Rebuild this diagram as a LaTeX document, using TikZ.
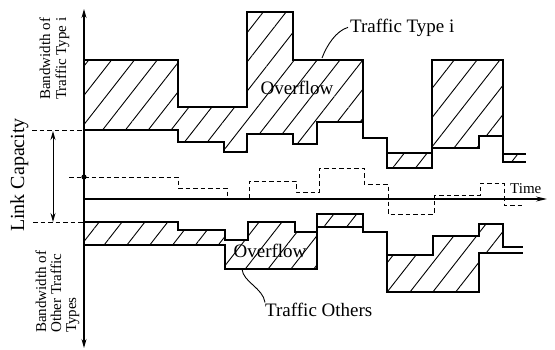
\documentclass[tikz,border=0pt]{standalone}
\usepackage{fontspec}
\setmainfont{Liberation Serif}
\usetikzlibrary{arrows.meta,patterns.meta}
\tikzset{
  outline/.style={line width=1.1pt, line join=miter},
  hatchfill/.style={pattern={Lines[angle=52,distance=18pt,line width=0.9pt]}},
  guide/.style={line width=0.9pt, dash pattern=on 4.5pt off 3pt},
  axisline/.style={line width=1.1pt},
  bigtext/.style={font=\fontsize{19}{22}\selectfont, inner sep=0pt},
  sidetext/.style={font=\fontsize{15}{16}\selectfont, inner sep=0pt, rotate=90, anchor=base west},
  leader/.style={line width=0.9pt},
}
\begin{document}
\begin{tikzpicture}[x=1pt,y=-1pt]
\useasboundingbox (0,0) rectangle (555,349);

% ---- hatched overflow areas (upper band: traffic type i)
\fill[hatchfill] (84,60) -- (178,60) -- (178,107) -- (247,107) -- (247,12) -- (293,12) -- (293,60) -- (363,60) -- (363,122) -- (317,122) -- (317,144) -- (293,144) -- (293,134) -- (247,134) -- (247,152) -- (224,152) -- (224,142) -- (178,142) -- (178,130) -- (84,130) -- cycle;
\fill[hatchfill] (387,153) -- (432,153) -- (432,168) -- (387,168) -- cycle;
\fill[hatchfill] (432,60) -- (503,60) -- (503,136) -- (479,136) -- (479,148) -- (432,148) -- cycle;
\fill[hatchfill] (503,154) -- (526,154) -- (526,162) -- (503,162) -- cycle;

% ---- hatched overflow areas (lower band: other traffic)
\fill[hatchfill] (84,222) -- (178,222) -- (178,230) -- (225,230) -- (225,240) -- (248,240) -- (248,222) -- (295,222) -- (295,232) -- (317,232) -- (317,269) -- (225,269) -- (225,245) -- (84,245) -- cycle;
\fill[hatchfill] (317,214) -- (363,214) -- (363,227) -- (317,227) -- cycle;
\fill[hatchfill] (387,255) -- (433,255) -- (433,236) -- (479,236) -- (479,224) -- (503,224) -- (503,253) -- (479,253) -- (479,292) -- (387,292) -- cycle;

% ---- step curves, upper band
\draw[outline] (84,60) -- (178,60) -- (178,107) -- (247,107) -- (247,12) -- (293,12) -- (293,60) -- (363,60) -- (363,138) -- (387,138) -- (387,153) -- (432,153) -- (432,60) -- (503,60) -- (503,154) -- (526,154);
\draw[outline] (84,130) -- (178,130) -- (178,142) -- (224,142) -- (224,152) -- (247,152) -- (247,134) -- (293,134) -- (293,144) -- (317,144) -- (317,122) -- (363,122) -- (363,138) -- (387,138) -- (387,168) -- (432,168) -- (432,148) -- (479,148) -- (479,136) -- (503,136) -- (503,162) -- (526,162);

% ---- step curves, lower band
\draw[outline] (84,222) -- (178,222) -- (178,230) -- (225,230) -- (225,240) -- (248,240) -- (248,222) -- (295,222) -- (295,232) -- (317,232) -- (317,214) -- (363,214) -- (363,232) -- (387,232) -- (387,255) -- (433,255) -- (433,236) -- (479,236) -- (479,224) -- (503,224) -- (503,247) -- (523,247);
\draw[outline] (84,245) -- (225,245) -- (225,269) -- (317,269) -- (317,227) -- (363,227) -- (363,232) -- (387,232) -- (387,292) -- (479,292) -- (479,253) -- (523,253);

% ---- dashed middle curve
\draw[guide] (69,177) -- (178,177) -- (178,188) -- (227,188) -- (227,199) -- (249,199) -- (249,181) -- (296,181) -- (296,192) -- (319,192) -- (319,168) -- (364,168) -- (364,184) -- (388,184) -- (388,214) -- (434,214) -- (434,195) -- (480,195) -- (480,183) -- (504,183) -- (504,205) -- (523,205);

% ---- capacity guides
\coordinate (capTopL) at (32,130);
\coordinate (capTopR) at (84,130);
\coordinate (capBotL) at (33,222);
\coordinate (capBotR) at (84,222);
\draw[guide] (capTopL) -- (capTopR);
\draw[guide] (capBotL) -- (capBotR);

% ---- axes
\coordinate (axTop) at (84,9);
\coordinate (axBot) at (84,348);
\coordinate (tStart) at (84,199);
\coordinate (tEnd) at (547,199);
\draw[axisline,{Stealth[length=9pt,width=5pt]}-{Stealth[length=9pt,width=5pt]}] (axBot) -- (axTop);
\draw[axisline,-{Stealth[length=11pt,width=5pt]}] (tStart) -- (tEnd);
\fill (84,177) circle[radius=2.6pt];

% ---- link capacity arrow
\coordinate (lcTop) at (53,131);
\coordinate (lcBot) at (53,222);
\draw[line width=1pt,{Stealth[length=9pt,width=5pt]}-{Stealth[length=9pt,width=5pt]}] (lcBot) -- (lcTop);

% ---- labels
\node[bigtext, font=\fontsize{20}{22}\selectfont, rotate=90, anchor=base] (lc) at (24,175) {Link Capacity};
\node[sidetext] (bw1) at (50,100) {Bandwidth of};
\node[sidetext] (bw2) at (66,100) {Traffic Type i};
\node[sidetext] (bo1) at (46,333) {Bandwidth of};
\node[sidetext] (bo2) at (61,333) {Other Traffic};
\node[sidetext] (bo3) at (76,333) {Types};
\node[font=\fontsize{15}{16}\selectfont, inner sep=0pt, anchor=base west] (time) at (510,193) {Time};
\node[bigtext, anchor=base] (ov1) at (297,94) {Overflow};
\node[bigtext, anchor=base] (ov2) at (270,257) {Overflow};
\node[bigtext, anchor=base west] (tti) at (350,32) {Traffic Type i};
\node[bigtext, anchor=base west] (tto) at (265,316) {Traffic Others};

% ---- leaders
\coordinate (ttiEnd) at (322,58);
\coordinate (ttoEnd) at (242,269);
\draw[leader] ([xshift=-2pt]tti.west) .. controls (336,31) and (327,45) .. (ttiEnd);
\draw[leader] (tto.north west) .. controls (263,288) and (243,282) .. (ttoEnd);
\end{tikzpicture}
\end{document}
